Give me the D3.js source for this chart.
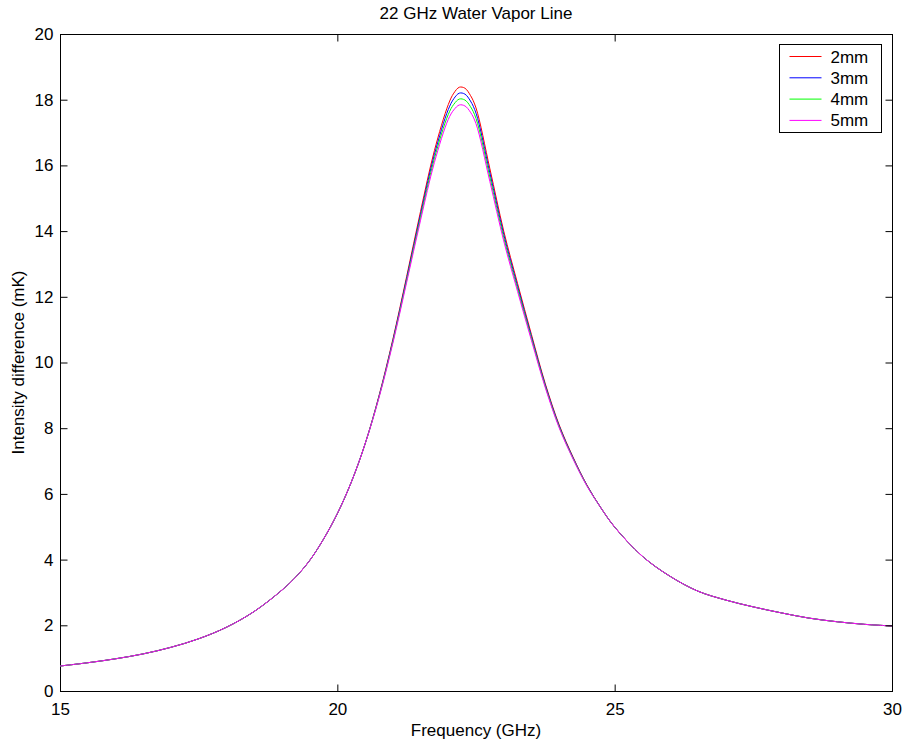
<!DOCTYPE html>
<html>
<head>
<meta charset="utf-8">
<script src="https://cdn.jsdelivr.net/npm/d3@7"></script>
<style>
  body { margin: 0; background: #fff; }
  svg text { font-family: "Liberation Sans", Arial, sans-serif; fill: #000; }
</style>
</head>
<body>
<div id="chart"></div>
<script>
// frequency grid (GHz)
var freq = [15, 15.5, 16, 16.5, 17, 17.5, 18, 18.5, 19, 19.25, 19.5, 19.75, 20, 20.25, 20.5, 20.75,
  21, 21.25, 21.5, 21.75, 22, 22.1, 22.2, 22.3, 22.4, 22.5, 22.75, 23, 23.25, 23.5, 23.75, 24,
  24.25, 24.5, 24.75, 25, 25.5, 26, 26.5, 27, 27.5, 28, 28.5, 29, 29.5, 30];

// intensity difference (mK) per series
var mm2 = [0.76, 0.86, 0.98, 1.13, 1.33, 1.59, 1.94, 2.42, 3.07, 3.47, 3.97, 4.62, 5.40, 6.35, 7.52, 8.98,
  10.70, 12.62, 14.60, 16.45, 17.85, 18.20, 18.38, 18.35, 18.13, 17.75, 15.90, 14.00, 12.40, 10.85, 9.35, 8.10,
  7.12, 6.27, 5.58, 4.99, 4.10, 3.49, 3.04, 2.77, 2.56, 2.38, 2.22, 2.11, 2.03, 1.98];
var mm3 = [0.76, 0.86, 0.98, 1.13, 1.33, 1.59, 1.94, 2.42, 3.07, 3.47, 3.97, 4.62, 5.40, 6.35, 7.52, 8.96,
  10.66, 12.56, 14.51, 16.33, 17.70, 18.03, 18.20, 18.17, 17.96, 17.59, 15.77, 13.90, 12.32, 10.79, 9.31, 8.07,
  7.10, 6.26, 5.58, 4.99, 4.10, 3.49, 3.04, 2.77, 2.56, 2.38, 2.22, 2.11, 2.03, 1.98];
var mm4 = [0.76, 0.86, 0.98, 1.13, 1.33, 1.59, 1.94, 2.42, 3.07, 3.47, 3.97, 4.62, 5.40, 6.35, 7.52, 8.94,
  10.62, 12.50, 14.42, 16.21, 17.55, 17.86, 18.02, 17.99, 17.79, 17.43, 15.64, 13.80, 12.24, 10.73, 9.27, 8.04,
  7.08, 6.25, 5.58, 4.99, 4.10, 3.49, 3.04, 2.77, 2.56, 2.38, 2.22, 2.11, 2.03, 1.98];
var mm5 = [0.76, 0.86, 0.98, 1.13, 1.33, 1.59, 1.94, 2.42, 3.07, 3.47, 3.97, 4.62, 5.40, 6.35, 7.52, 8.92,
  10.58, 12.44, 14.33, 16.09, 17.40, 17.69, 17.84, 17.81, 17.62, 17.27, 15.51, 13.70, 12.16, 10.67, 9.23, 8.01,
  7.06, 6.24, 5.58, 4.99, 4.10, 3.49, 3.04, 2.77, 2.56, 2.38, 2.22, 2.11, 2.03, 1.98];

var seriesNames = ["2mm", "3mm", "4mm", "5mm"];
var seriesColors = ["#ff0000", "#0000ff", "#00ff00", "#ff00ff"];
var xTicks = [15, 20, 25, 30];
var yTicks = [0, 2, 4, 6, 8, 10, 12, 14, 16, 18, 20];

var width = 904, height = 742;
var margin = {left: 60, right: 12, top: 34, bottom: 51};
var x0 = margin.left, x1 = width - margin.right;
var y0 = height - margin.bottom, y1 = margin.top;

var svg = d3.select("#chart").append("svg")
  .attr("width", width).attr("height", height);

var x = d3.scaleLinear().domain([15, 30]).range([x0, x1]);
var y = d3.scaleLinear().domain([0, 20]).range([y0, y1]);

// plot frame
svg.append("rect")
  .attr("x", x0 + 0.5).attr("y", y1 + 0.5)
  .attr("width", x1 - x0).attr("height", y0 - y1)
  .attr("fill", "#fff").attr("stroke", "#000").attr("stroke-width", 1);

// curves
var line = d3.line()
  .x(function (d) { return x(d[0]); })
  .y(function (d) { return y(d[1]); })
  .curve(d3.curveCatmullRom.alpha(0.5));

var allSeries = [mm2, mm3, mm4, mm5];
allSeries.forEach(function (vals, i) {
  svg.append("path")
    .datum(freq.map(function (f, j) { return [f, vals[j]]; }))
    .attr("d", line)
    .attr("fill", "none")
    .attr("stroke", seriesColors[i])
    .attr("stroke-width", 1);
});

// axes (ticks pointing inside, mirrored on top/right)
var tickLen = 7;
function styleAxis(g) {
  g.select(".domain").remove();
  g.selectAll(".tick line").attr("stroke", "#000");
  g.selectAll(".tick text").style("font-size", "17px")
    .style("font-family", "'Liberation Sans', Arial, sans-serif");
}

svg.append("g")
  .attr("transform", "translate(0," + (y0 + 0.5) + ")")
  .call(d3.axisBottom(x).tickValues(xTicks).tickSizeInner(-tickLen).tickPadding(11).tickFormat(d3.format("d")))
  .call(styleAxis);
svg.append("g")
  .attr("transform", "translate(0," + (y1 + 0.5) + ")")
  .call(d3.axisTop(x).tickValues(xTicks).tickSizeInner(-tickLen).tickFormat(""))
  .call(styleAxis);
svg.append("g")
  .attr("transform", "translate(" + (x0 + 0.5) + ",0)")
  .call(d3.axisLeft(y).tickValues(yTicks).tickSizeInner(-tickLen).tickPadding(7).tickFormat(d3.format("d")))
  .call(styleAxis);
svg.append("g")
  .attr("transform", "translate(" + (x1 + 0.5) + ",0)")
  .call(d3.axisRight(y).tickValues(yTicks).tickSizeInner(-tickLen).tickFormat(""))
  .call(styleAxis);

// titles
svg.append("text")
  .attr("x", (x0 + x1) / 2).attr("y", 19)
  .attr("text-anchor", "middle").style("font-size", "17px")
  .text("22 GHz Water Vapor Line");
svg.append("text")
  .attr("x", (x0 + x1) / 2).attr("y", 736)
  .attr("text-anchor", "middle").style("font-size", "17px")
  .text("Frequency (GHz)");
svg.append("text")
  .attr("transform", "translate(24," + ((y0 + y1) / 2) + ") rotate(-90)")
  .attr("text-anchor", "middle").style("font-size", "17px")
  .text("Intensity difference (mK)");

// legend
var legend = svg.append("g").attr("transform", "translate(779.5,44.5)");
legend.append("rect")
  .attr("width", 102).attr("height", 88)
  .attr("fill", "#fff").attr("stroke", "#000");
seriesNames.forEach(function (name, i) {
  var ly = 12 + i * 21.3;
  legend.append("line")
    .attr("x1", 10).attr("x2", 42).attr("y1", ly).attr("y2", ly)
    .attr("stroke", seriesColors[i]).attr("stroke-width", 1);
  legend.append("text")
    .attr("x", 51).attr("y", ly + 6)
    .style("font-size", "17px")
    .text(name);
});
</script>
</body>
</html>
